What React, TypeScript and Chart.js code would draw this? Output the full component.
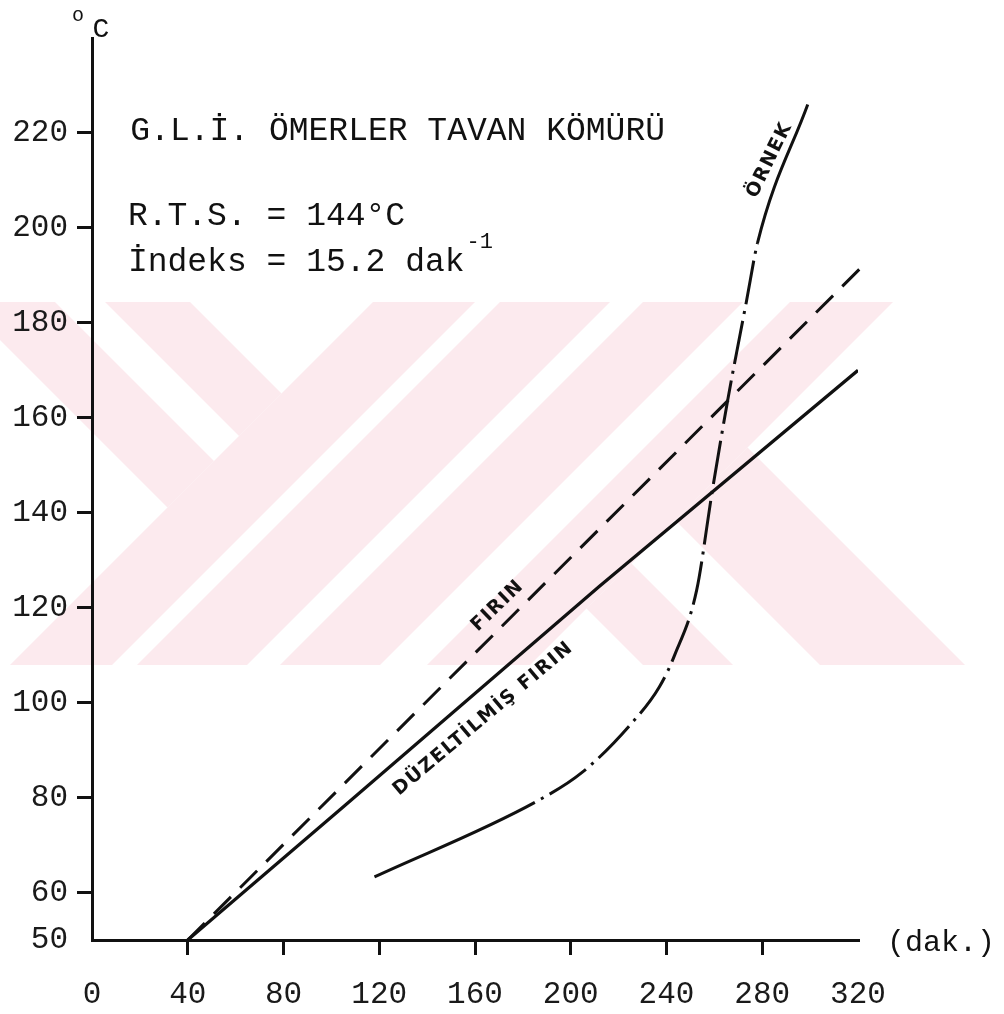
import React, { useEffect, useRef } from 'react';
import { Chart, registerables } from 'chart.js';

Chart.register(...registerables);

// ---- data ----
const xTicks = [0, 40, 80, 120, 160, 200, 240, 280, 320];
const yTicks = [50, 60, 80, 100, 120, 140, 160, 180, 200, 220];

// FIRIN (dashed)
const firinX = [40, 324];
const firinY = [50, 193];

// DÜZELTİLMİŞ FIRIN (solid)
const duzX = [40, 106, 212, 320];
const duzY = [50, 78.5, 124.5, 170];

// ÖRNEK (dash-dot)
const ornekX = [118, 185, 205, 225.5, 237, 243.4, 252.6, 259, 265.6, 273.5, 278, 299];
const ornekY = [63.3, 79, 85.4, 95.7, 103.3, 110, 123.7, 144.2, 163.8, 184.8, 196.8, 226];

// texts
const titleLine = 'G.L.İ. ÖMERLER TAVAN KÖMÜRÜ';
const rtsLine = 'R.T.S. = 144°C';
const indeksLine = 'İndeks = 15.2 dak';
const indeksSup = '-1';
const curveLabels = [
  { text: 'FIRIN', x: 169.5, y: 120.4, angle: -44 },
  { text: 'DÜZELTİLMİŞ FIRIN', x: 163.5, y: 96.6, angle: -40 },
  { text: 'ÖRNEK', x: 283.1, y: 214.3, angle: -64 },
];

const INK = '#111';
const PINK = '#fceaee';
const MONO = '"Liberation Mono", "DejaVu Sans Mono", monospace';

const toPts = (xs: number[], ys: number[]) => xs.map((x, i) => ({ x, y: ys[i] }));

const watermark = {
  id: 'watermark',
  beforeDraw(chart: any) {
    const ctx = chart.ctx as CanvasRenderingContext2D;
    ctx.save();
    ctx.beginPath();
    ctx.rect(0, 302, 980, 363);
    ctx.clip();
    const poly = (pts: number[][], color: string) => {
      ctx.beginPath();
      pts.forEach((p, i) => (i ? ctx.lineTo(p[0], p[1]) : ctx.moveTo(p[0], p[1])));
      ctx.closePath();
      ctx.fillStyle = color;
      ctx.fill();
    };
    poly([[88, 200], [281.5, 393.5], [167.5, 507.5], [-140, 200]], PINK);
    poly([[3, 200], [240, 437], [215, 462], [-47, 200]], '#ffffff');
    for (const [c1, c2] of [[675, 777], [802, 912], [945, 1045], [1092, 1195]]) {
      poly([[c1 - 200, 200], [c2 - 200, 200], [c2 - 800, 800], [c1 - 800, 800]], PINK);
    }
    poly([[747.5, 447.5], [1100, 800], [955, 800], [675, 520]], PINK);
    poly([[631.5, 563.5], [868, 800], [778, 800], [586.5, 608.5]], PINK);
    ctx.restore();
  },
};

const notes = {
  id: 'notes',
  afterDraw(chart: any) {
    const ctx = chart.ctx as CanvasRenderingContext2D;
    const xs = chart.scales.x;
    const ys = chart.scales.y;
    const area = chart.chartArea;
    ctx.save();
    ctx.fillStyle = INK;
    ctx.textBaseline = 'middle';
    ctx.textAlign = 'left';
    ctx.font = `33px ${MONO}`;
    ctx.fillText(titleLine, xs.getPixelForValue(16), ys.getPixelForValue(220.4));
    ctx.fillText(rtsLine, xs.getPixelForValue(15), ys.getPixelForValue(202.5));
    const ix = xs.getPixelForValue(15);
    const iy = ys.getPixelForValue(192.8);
    ctx.fillText(indeksLine, ix, iy);
    const w = ctx.measureText(indeksLine).width;
    ctx.font = `22px ${MONO}`;
    ctx.fillText(indeksSup, ix + w + 2, iy - 20);

    // axis units
    ctx.font = `20px ${MONO}`;
    ctx.textAlign = 'center';
    ctx.fillText('o', area.left - 14, area.top - 22);
    ctx.font = `28px ${MONO}`;
    ctx.fillText('C', area.left + 9, area.top - 8);
    ctx.textAlign = 'left';
    ctx.font = `30px ${MONO}`;
    ctx.fillText('(dak.)', area.right + 29, ys.getPixelForValue(50) + 3);

    // curve labels
    ctx.font = 'bold 19px "DejaVu Sans", sans-serif';
    (ctx as any).letterSpacing = '1.5px';
    ctx.textAlign = 'center';
    for (const l of curveLabels) {
      ctx.save();
      ctx.translate(xs.getPixelForValue(l.x), ys.getPixelForValue(l.y));
      ctx.rotate((l.angle * Math.PI) / 180);
      ctx.fillText(l.text, 0, 0);
      ctx.restore();
    }
    (ctx as any).letterSpacing = '0px';
    ctx.restore();
  },
};

export default function App() {
  const ref = useRef<HTMLCanvasElement | null>(null);

  useEffect(() => {
    if (!ref.current) return;
    const lastSeg = ornekX.length - 2;
    const chart = new Chart(ref.current, {
      type: 'line',
      data: {
        datasets: [
          {
            label: 'FIRIN',
            data: toPts(firinX, firinY),
            borderColor: INK,
            borderWidth: 3,
            borderDash: [24, 13],
            pointRadius: 0,
            clip: false as any,
          },
          {
            label: 'DÜZELTİLMİŞ FIRIN',
            data: toPts(duzX, duzY),
            borderColor: INK,
            borderWidth: 3.2,
            pointRadius: 0,
          },
          {
            label: 'ÖRNEK',
            data: toPts(ornekX, ornekY),
            borderColor: INK,
            borderWidth: 3,
            pointRadius: 0,
            cubicInterpolationMode: 'monotone',
            segment: {
              borderDash: (c: any) => (c.p0DataIndex === 0 || c.p0DataIndex === lastSeg ? [] : [44, 7, 3, 7]),
              borderDashOffset: (c: any) => (c.p0DataIndex === 0 || c.p0DataIndex === lastSeg ? 0 : 44),
            },
          },
        ],
      },
      options: {
        animation: false,
        responsive: false,
        layout: { padding: { top: 38, right: 146, left: 0, bottom: 0 } },
        plugins: { legend: { display: false }, tooltip: { enabled: false } },
        scales: {
          x: {
            type: 'linear',
            min: 0,
            max: 320,
            afterBuildTicks: (s: any) => {
              s.ticks = xTicks.map((v) => ({ value: v }));
            },
            afterFit: (s: any) => {
              s.height = 74;
            },
            border: { display: true, color: INK, width: 3 },
            grid: {
              drawOnChartArea: false,
              drawTicks: true,
              tickLength: 15,
              tickWidth: 3,
              lineWidth: 3,
              color: (c: any) => (c.tick && (c.tick.value === 0 || c.tick.value === 320) ? 'rgba(0,0,0,0)' : INK),
              tickColor: (c: any) => (c.tick && (c.tick.value === 0 || c.tick.value === 320) ? 'rgba(0,0,0,0)' : INK),
            },
            ticks: {
              color: '#1a1a1a',
              font: { family: MONO, size: 31 },
              padding: 21,
              maxRotation: 0,
              autoSkip: false,
            },
          },
          y: {
            type: 'linear',
            min: 50,
            max: 240,
            afterBuildTicks: (s: any) => {
              s.ticks = yTicks.map((v) => ({ value: v }));
            },
            afterFit: (s: any) => {
              s.width = 92;
            },
            border: { display: true, color: INK, width: 3 },
            grid: {
              drawOnChartArea: false,
              drawTicks: true,
              tickLength: 15,
              tickWidth: 3,
              lineWidth: 3,
              color: (c: any) => (c.tick && c.tick.value === 50 ? 'rgba(0,0,0,0)' : INK),
              tickColor: (c: any) => (c.tick && c.tick.value === 50 ? 'rgba(0,0,0,0)' : INK),
            },
            ticks: {
              color: '#1a1a1a',
              font: { family: MONO, size: 31 },
              padding: 9,
              autoSkip: false,
            },
          },
        },
      } as any,
      plugins: [watermark, notes],
    });
    return () => chart.destroy();
  }, []);

  return (
    <div style={{ position: 'absolute', left: 0, top: 0, width: 1004, height: 1014, background: '#fff' }}>
      <canvas ref={ref} width={1004} height={1014} />
    </div>
  );
}
